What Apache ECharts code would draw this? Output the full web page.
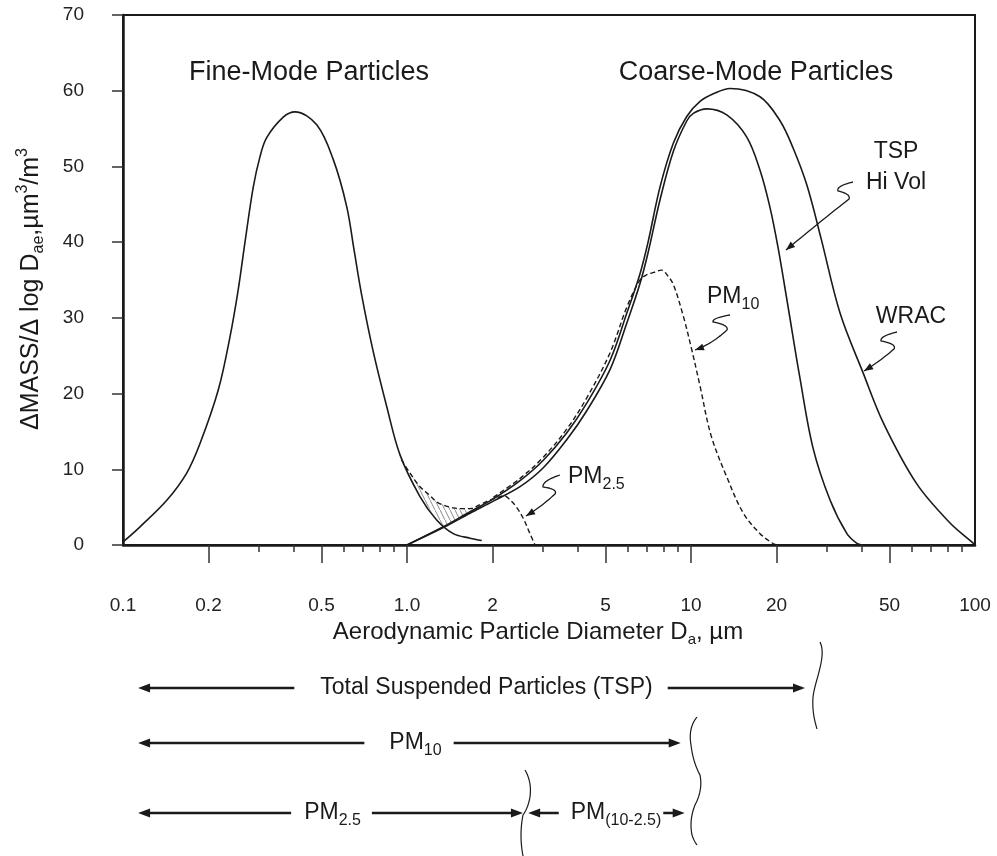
<!DOCTYPE html>
<html>
<head>
<meta charset="utf-8">
<script src="https://cdn.jsdelivr.net/npm/echarts@6/dist/echarts.min.js"></script>
<style>
  html, body { margin: 0; padding: 0; background: #fff; }
  #chart { width: 997px; height: 856px; }
</style>
</head>
<body>
<div id="chart"></div>
<script>
// ---------------- data (diameters in µm, values in ΔMASS/Δlog D) ----------------
const xTickLabels = ['0.1', '0.2', '0.5', '1.0', '2', '5', '10', '20', '50', '100'];
const xMajorTicks = [0.2, 0.5, 1, 2, 5, 10, 20, 50];
const xMinorTicks = [0.3, 0.4, 0.6, 0.7, 0.8, 0.9, 3, 4, 6, 7, 8, 9, 30, 40, 60, 70, 80, 90];

const fineD = [0.100, 0.1148, 0.1426, 0.1676, 0.1867, 0.2166, 0.2381, 0.2547, 0.2689, 0.2876, 0.3037, 0.3206, 0.3667, 0.4033, 0.4809, 0.5502, 0.6134, 0.6508, 0.6926, 0.7609, 0.8483, 0.9449, 1.111, 1.272, 1.455, 1.667, 1.833];
const fineV = [0.4, 2.4, 5.9, 9.5, 13.4, 20.5, 27.5, 33.8, 40.0, 47.3, 51.3, 53.8, 56.5, 57.2, 55.5, 50.9, 44.7, 39.0, 33.0, 25.5, 18.3, 11.9, 6.4, 3.3, 1.5, 0.9, 0.6];

const wracD = [1.0, 1.342, 1.667, 2.014, 2.5, 3.02, 3.65, 4.29, 5.19, 5.94, 6.61, 7.06, 7.78, 8.67, 9.66, 10.76, 12.15, 13.72, 17.5, 20.6, 22.9, 25.6, 28.7, 33.5, 40.4, 47.6, 62.3, 81.7, 97.4, 100];
const wracV = [0, 2.4, 4.4, 6.1, 8.5, 11.2, 14.8, 18.7, 24.4, 30.6, 35.8, 40.0, 47.3, 53.1, 56.6, 58.6, 59.7, 60.3, 59.2, 56.0, 52.4, 47.5, 40.5, 30.6, 22.7, 16.1, 8.1, 2.9, 0.4, 0];

const tspD = [1.0, 1.342, 1.667, 2.014, 2.5, 3.02, 3.65, 4.29, 5.19, 5.94, 6.61, 7.06, 7.78, 8.67, 9.66, 10.19, 11.36, 13.36, 15.7, 17.5, 18.97, 20.25, 21.96, 24.2, 26.9, 30.9, 35.4, 38.4, 40];
const tspV = [0, 2.3, 4.2, 5.8, 7.7, 10.2, 13.9, 17.7, 23.2, 29.3, 34.5, 38.6, 45.6, 52.0, 56.0, 57.0, 57.6, 56.8, 53.9, 49.5, 44.6, 39.3, 31.5, 22.0, 12.8, 5.9, 1.5, 0.2, 0];

const pm10D = [2.014, 2.5, 3.02, 3.65, 4.29, 5.19, 5.94, 6.61, 6.98, 7.4, 7.88, 8.3, 8.67, 9.40, 10.06, 10.76, 11.76, 13.36, 15.29, 17.5, 19.24, 20];
const pm10V = [6.3, 8.8, 11.6, 15.3, 19.4, 25.4, 31.4, 35.0, 35.7, 36.0, 36.3, 35.5, 34.4, 30.2, 25.8, 21.0, 14.5, 9.0, 4.2, 1.5, 0.3, 0];

const pm25D = [0.955, 1.02, 1.111, 1.2, 1.272, 1.36, 1.455, 1.55, 1.667, 1.8, 1.95, 2.1, 2.2, 2.3, 2.43, 2.568, 2.71, 2.823];
const pm25V = [11.3, 9.6, 7.7, 6.6, 5.7, 5.2, 4.9, 4.8, 4.8, 5.3, 5.9, 6.3, 6.5, 6.0, 5.0, 3.5, 1.5, 0];

const hatchD = [0.97, 1.02, 1.111, 1.2, 1.272, 1.342, 1.455, 1.55, 1.667];
const hatchLower = [10.6, 9.3, 6.4, 4.7, 3.3, 2.5, 3.2, 3.8, 4.5];
const hatchUpper = [10.6, 9.6, 7.7, 6.6, 5.7, 5.3, 4.9, 4.8, 4.7];

const rangeNames = ['Total Suspended Particles (TSP)', 'PM', 'PM', 'PM'];
const rangeSubs = ['', '10', '2.5', '(10-2.5)'];
const rangeFrom = [0.113, 0.113, 0.113, 2.67];
const rangeTo = [25.2, 9.2, 2.56, 9.5];

// ---------------- helpers ----------------
const FONT = '"Liberation Sans", Arial, Helvetica, sans-serif';
const INK = '#1a1a1a';
const L = Math.log10;
const pts = (ds, vs) => ds.map((d, i) => [L(d), vs[i]]);

function richSet(fs, sfs, lh) {
  return {
    m: { fontSize: fs, lineHeight: lh, fontFamily: FONT, color: INK, fill: INK, verticalAlign: 'middle' },
    sub: { fontSize: sfs, lineHeight: sfs, fontFamily: FONT, color: INK, fill: INK, verticalAlign: 'bottom' },
    sup: { fontSize: sfs, lineHeight: sfs, fontFamily: FONT, color: INK, fill: INK, verticalAlign: 'top' }
  };
}

// hatch pattern
const pat = document.createElement('canvas');
pat.width = 5; pat.height = 10;
(function () {
  const g = pat.getContext('2d');
  g.strokeStyle = '#8a8a8a'; g.lineWidth = 1;
  g.beginPath(); g.moveTo(0, 0); g.lineTo(5, 10); g.stroke();
})();

const lineSeries = (name, ds, vs, dashed) => ({
  name, type: 'line', xAxisIndex: 0, yAxisIndex: 0,
  data: pts(ds, vs), smooth: 0.35, symbol: 'none', silent: true, z: 3,
  lineStyle: { color: INK, width: dashed ? 1.4 : 1.6, type: dashed ? [5, 3] : 'solid' }
});

const option = {
  animation: false,
  backgroundColor: '#fff',
  grid: { left: 123, right: 22, top: 15, bottom: 311, show: true, borderColor: INK, borderWidth: 2, backgroundColor: 'transparent' },
  xAxis: [
    {
      type: 'value', min: -1, max: 2, position: 'bottom', gridIndex: 0,
      axisLine: { show: true, onZero: false, lineStyle: { color: INK, width: 2.5 } },
      axisTick: { show: true, inside: false, length: 18, customValues: xMajorTicks.map(L), lineStyle: { color: '#333', width: 1.5 } },
      axisLabel: {
        show: true, margin: 51, fontSize: 19, color: '#222', fontFamily: FONT,
        customValues: xTickLabels.map(s => L(parseFloat(s))),
        formatter: v => {
          for (const s of xTickLabels) { if (Math.abs(L(parseFloat(s)) - v) < 1e-6) return s; }
          return '';
        }
      },
      splitLine: { show: false },
      name: '{m|Aerodynamic Particle Diameter D}{sub|a}{m|, µm}',
      nameLocation: 'middle', nameGap: 72,
      nameTextStyle: { fontSize: 24, fontFamily: FONT, color: INK, padding: [0, 22, 0, 0], rich: richSet(24, 15, 30) }
    },
    {
      type: 'value', min: -1, max: 2, position: 'bottom', gridIndex: 0,
      axisLine: { show: false },
      axisTick: { show: true, inside: false, length: 7, customValues: xMinorTicks.map(L), lineStyle: { color: '#333', width: 1.5 } },
      axisLabel: { show: false },
      splitLine: { show: false }
    }
  ],
  yAxis: [{
    type: 'value', min: 0, max: 70, interval: 10, gridIndex: 0,
    axisLine: { show: true, onZero: false, lineStyle: { color: INK, width: 2.5 } },
    axisTick: { show: true, inside: false, length: 11, lineStyle: { color: '#333', width: 1.5 } },
    axisLabel: { margin: 39, fontSize: 19, color: '#222', fontFamily: FONT },
    splitLine: { show: false },
    name: '{m|ΔMASS/Δ log D}{sub|ae}{m|,µm}{sup|3}{m|/m}{sup|3}',
    nameLocation: 'middle', nameGap: 76,
    nameTextStyle: { fontSize: 25, fontFamily: FONT, color: INK, padding: [0, 18, 0, 0], rich: richSet(25, 16, 32) }
  }],
  series: [
    {
      name: 'hatch', type: 'custom', coordinateSystem: 'cartesian2d', xAxisIndex: 0, yAxisIndex: 0,
      silent: true, z: 2,
      data: pts(hatchD, hatchUpper),
      renderItem: (params, api) => {
        if (params.dataIndex !== 0) return null;
        const up = hatchD.map((d, i) => api.coord([L(d), hatchUpper[i]]));
        const lo = hatchD.map((d, i) => api.coord([L(d), hatchLower[i]])).reverse();
        return { type: 'polygon', shape: { points: up.concat(lo) }, style: { fill: { image: pat, repeat: 'repeat' }, stroke: null } };
      }
    },
    lineSeries('Fine mode', fineD, fineV, false),
    lineSeries('WRAC', wracD, wracV, false),
    lineSeries('TSP Hi Vol', tspD, tspV, false),
    lineSeries('PM10', pm10D, pm10V, true),
    lineSeries('PM2.5', pm25D, pm25V, true)
  ]
};

const chart = echarts.init(document.getElementById('chart'), null, { renderer: 'canvas' });
chart.setOption(option);

// ---------------- annotations ----------------
function arrowHead(tx, ty, fx, fy, len, hw) {
  const dx = tx - fx, dy = ty - fy, n = Math.hypot(dx, dy);
  const ux = dx / n, uy = dy / n;
  const bx = tx - ux * len, by = ty - uy * len;
  return { type: 'polygon', z: 20, silent: true, shape: { points: [[tx, ty], [bx - uy * hw, by + ux * hw], [bx + uy * hw, by - ux * hw]] }, style: { fill: INK, stroke: null } };
}
function label(text, x, y, fs, align, extra) {
  return {
    type: 'text', x, y, z: 20, silent: true,
    style: Object.assign({
      text, fontSize: fs, fontFamily: FONT, fill: INK,
      align: align, textAlign: align, verticalAlign: 'middle', textVerticalAlign: 'middle'
    }, extra || {})
  };
}
// sample a simple path string (M, L, Q, C) into polyline points
function samplePath(d) {
  const t = d.match(/[MLQC]|-?\d+(?:\.\d+)?/g);
  let i = 0, cur = [0, 0];
  const out = [];
  const num = () => +t[i++];
  while (i < t.length) {
    const c = t[i++];
    if (c === 'M' || c === 'L') {
      cur = [num(), num()]; out.push(cur);
    } else if (c === 'Q') {
      const c1 = [num(), num()], p = [num(), num()];
      for (let k = 1; k <= 14; k++) {
        const s = k / 14, a = (1 - s) * (1 - s), b = 2 * (1 - s) * s, e = s * s;
        out.push([a * cur[0] + b * c1[0] + e * p[0], a * cur[1] + b * c1[1] + e * p[1]]);
      }
      cur = p;
    } else if (c === 'C') {
      const c1 = [num(), num()], c2 = [num(), num()], p = [num(), num()];
      for (let k = 1; k <= 20; k++) {
        const s = k / 20, a = Math.pow(1 - s, 3), b = 3 * Math.pow(1 - s, 2) * s, e = 3 * (1 - s) * s * s, f = s * s * s;
        out.push([a * cur[0] + b * c1[0] + e * c2[0] + f * p[0], a * cur[1] + b * c1[1] + e * c2[1] + f * p[1]]);
      }
      cur = p;
    }
  }
  return out;
}
function pathLine(d, w) {
  return { type: 'polyline', z: 20, silent: true, shape: { points: samplePath(d) }, style: { stroke: INK, lineWidth: w || 1.3, fill: null } };
}

const gfx = [];
gfx.push(label('Fine-Mode Particles', 309, 73, 27, 'center'));
gfx.push(label('Coarse-Mode Particles', 756, 73, 27, 'center'));
gfx.push(label('TSP', 896, 152, 23, 'center'));
gfx.push(label('Hi Vol', 896, 183, 23, 'center'));
gfx.push(label('WRAC', 911, 317, 23, 'center'));
gfx.push(label('{m|PM}{sub|10}', 707, 297, 23, 'left', { rich: richSet(23, 16, 32) }));
gfx.push(label('{m|PM}{sub|2.5}', 568, 477, 23, 'left', { rich: richSet(23, 16, 32) }));

// squiggle pointers
const squiggles = [
  { d: 'M853 182 Q836 186 838 191 Q851 194 849 199 Q816 225 786 250', tip: [786, 250], from: [816, 225] },
  { d: 'M897 332 Q880 336 881 341 Q897 344 894 349 Q879 362 864 371', tip: [864, 371], from: [879, 362] },
  { d: 'M730 315 Q712 318 713 322 Q729 325 727 330 Q712 344 695 350', tip: [695, 350], from: [712, 344] },
  { d: 'M560 475 Q542 481 543 487 Q558 489 555 494 Q541 507 526 516', tip: [526, 516], from: [541, 507] }
];
squiggles.forEach(s => {
  gfx.push(pathLine(s.d, 1.3));
  gfx.push(arrowHead(s.tip[0], s.tip[1], s.from[0], s.from[1], 9, 3.5));
});

// size-range arrows below the chart
const rowY = [688, 743, 813, 813];
const boxX = [481, 409, 331.5, 611];
const boxPad = [[0, 15, 0, 26], [0, 12, 0, 25], [0, 11, 0, 13], [0, 2, 0, 12]];
const px = d => chart.convertToPixel({ xAxisIndex: 0 }, L(d));
for (let i = 0; i < rangeNames.length; i++) {
  const x1 = px(rangeFrom[i]), x2 = px(rangeTo[i]), y = rowY[i];
  const AL = 12;
  gfx.push({ type: 'line', z: 15, silent: true, shape: { x1: x1 + AL - 1, y1: y, x2: x2 - AL + 1, y2: y }, style: { stroke: INK, lineWidth: 2.6 } });
  gfx.push(arrowHead(x1, y, x1 + 20, y, AL, 4.5));
  gfx.push(arrowHead(x2, y, x2 - 20, y, AL, 4.5));
  const txt = rangeSubs[i] ? '{m|' + rangeNames[i] + '}{sub|' + rangeSubs[i] + '}' : '{m|' + rangeNames[i] + '}';
  gfx.push(label(txt, boxX[i], y, 23, 'center', {
    rich: richSet(23, 16, 32), backgroundColor: '#fff', padding: boxPad[i]
  }));
}

// wavy braces
gfx.push(pathLine('M820 642 C827 656 815 680 813 697 C812 712 815 722 817 729', 1.2));
gfx.push(pathLine('M697 717 Q688 728 691 745 Q693 762 700 775 Q703 790 695 805 Q689 820 692 835 Q694 841 697 845', 1.2));
gfx.push(pathLine('M525 770 Q532 782 530 797 Q528 808 523 815 Q519 835 523 856', 1.2));

chart.setOption({ graphic: gfx });
</script>
</body>
</html>
